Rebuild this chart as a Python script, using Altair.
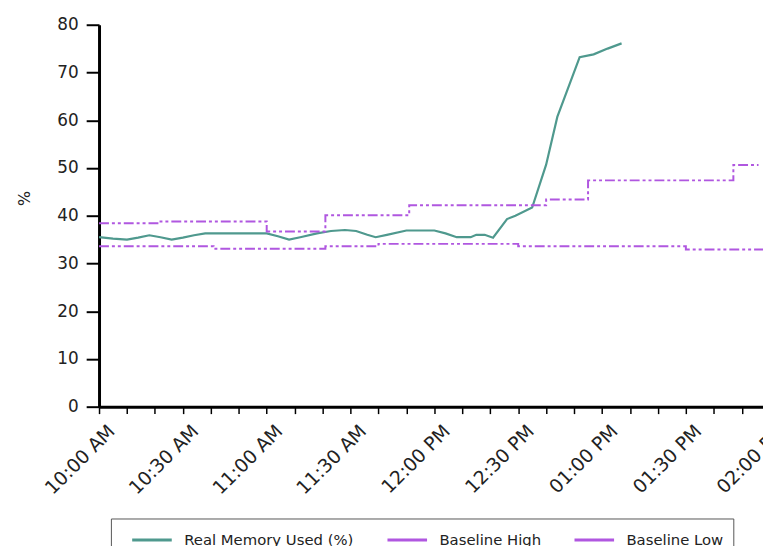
import altair as alt
import pandas as pd

# ---- data (minutes after 10:00 AM) ----
mem_minutes = [0, 5, 10, 14, 18, 22, 26, 30, 34, 38, 45, 52, 60, 64, 68, 72, 78, 83, 88, 92,
               96, 99, 103, 110, 120, 124, 128, 133, 135, 138, 141, 146, 149, 155, 160, 164,
               172, 177, 182, 187]
mem_values = [35.5, 35.2, 35.0, 35.4, 35.9, 35.5, 35.0, 35.4, 35.9, 36.3, 36.3, 36.3, 36.3, 35.7,
              35.0, 35.5, 36.3, 36.8, 37.0, 36.8, 36.0, 35.5, 36.0, 36.9, 36.9, 36.3, 35.5, 35.5,
              36.0, 36.0, 35.4, 39.3, 40.0, 41.7, 50.7, 60.7, 73.2, 73.8, 75.0, 76.1]

high_minutes = [0, 22, 60, 81, 111, 160, 175, 227, 236]
high_values = [38.4, 38.8, 36.7, 40.1, 42.2, 43.4, 47.4, 50.6, 50.6]

low_minutes = [0, 41, 81, 100, 150, 210, 245]
low_values = [33.6, 33.1, 33.6, 34.1, 33.6, 32.9, 32.9]

series_names = ["Real Memory Used (%)", "Baseline High", "Baseline Low"]
series_colors = ["#4f998e", "#b057e0", "#b057e0"]
y_ticks = [0, 10, 20, 30, 40, 50, 60, 70, 80]

start = pd.Timestamp("2024-01-01 10:00:00")


def to_time(mins):
    return [(start + pd.Timedelta(minutes=m)).strftime("%Y-%m-%dT%H:%M:%S") for m in mins]


mem_df = pd.DataFrame({"time": to_time(mem_minutes), "value": mem_values,
                       "series": series_names[0]})
base_df = pd.concat([
    pd.DataFrame({"time": to_time(high_minutes), "value": high_values, "series": series_names[1]}),
    pd.DataFrame({"time": to_time(low_minutes), "value": low_values, "series": series_names[2]}),
])


def dt(h, m):
    return alt.DateTime(year=2024, month=1, date=1, hours=h, minutes=m)


tick_values = []
for k in range(0, 26):
    mm = 10 * 60 + 10 * k
    tick_values.append(dt(mm // 60, mm % 60))

FONT = "DejaVu Sans"

x_enc = alt.X(
    "time:T",
    scale=alt.Scale(domain=[dt(10, 0), dt(14, 10)], range=[0, 706]),
    axis=alt.Axis(
        values=tick_values,
        labelExpr="minutes(datum.value) % 30 == 0 ? timeFormat(datum.value, '%I:%M %p') : ''",
        labelAngle=315, labelAlign="right", labelBaseline="top",
        labelPadding=8, labelOffset=6, labelOverlap=False, labelBound=False, labelFlush=False,
        labelFontSize=19,
        tickSize=7, tickWidth=1.5, domainWidth=3, title=None,
    ),
)
y_enc = alt.Y(
    "value:Q",
    scale=alt.Scale(domain=[0, 80]),
    axis=alt.Axis(
        values=y_ticks, tickSize=13, tickWidth=2, domainWidth=3, labelPadding=8,
        labelFontSize=17,
        title="%", titleX=-75, titleY=175, titleAngle=270, titleBaseline="middle",
        titleAlign="center", titleFontWeight="normal", titleFontSize=16, titleColor="#222",
    ),
)
color_enc = alt.Color(
    "series:N",
    scale=alt.Scale(domain=series_names, range=series_colors),
    legend=alt.Legend(
        orient="none", legendX=12, legendY=499, direction="horizontal", title=None,
        symbolType="M-2,0H2", symbolSize=400, symbolStrokeWidth=3, symbolDash=[1, 0],
        labelFontSize=15, labelFont=FONT, labelColor="#222", labelLimit=400,
        strokeColor="#555", fillColor="white", padding=10, symbolOffset=20,
        labelOffset=21, columnPadding=22,
    ),
)

mem = alt.Chart(mem_df).mark_line(strokeWidth=2.2).encode(x=x_enc, y=y_enc, color=color_enc)
base = alt.Chart(base_df).mark_line(
    strokeWidth=2, interpolate="step-after", strokeDash=[10, 3, 3, 3, 3, 3]
).encode(x=x_enc, y=y_enc, color=color_enc, detail="series:N")

chart = (
    alt.layer(mem, base)
    .properties(
        width=671, height=386,
        autosize=alt.AutoSizeParams(type="none"),
        padding={"left": 92, "top": 14, "right": 0, "bottom": 150},
    )
    .configure_view(stroke=None)
    .configure_axis(grid=False, domainColor="black", tickColor="black",
                    labelColor="#222", labelFont=FONT, titleFont=FONT)
)

chart.save("out.html", embed_options={"renderer": "svg", "actions": False})
